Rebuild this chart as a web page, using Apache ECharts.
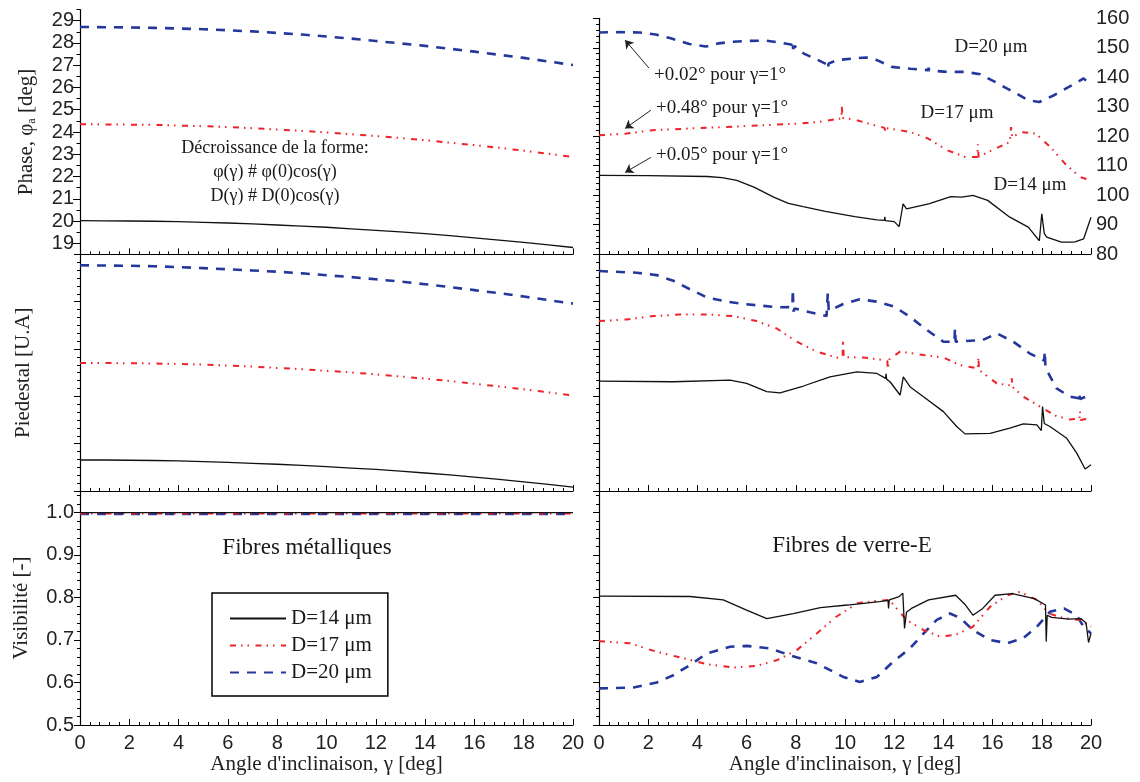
<!DOCTYPE html>
<html><head><meta charset="utf-8">
<script src="https://cdn.jsdelivr.net/npm/echarts@6/dist/echarts.min.js"></script>
<style>html,body{margin:0;padding:0;background:#fff}#c{width:1140px;height:782px}</style>
</head><body><div id="c"></div>
<script>
// ---------- DATA ----------
const names = ['D=14 μm', 'D=17 μm', 'D=20 μm'];
const xTicks = [0, 2, 4, 6, 8, 10, 12, 14, 16, 18, 20];
const phaseTicksL = [19, 20, 21, 22, 23, 24, 25, 26, 27, 28, 29];
const phaseMinorL = [18.5, 19.5, 20.5, 21.5, 22.5, 23.5, 24.5, 25.5, 26.5, 27.5, 28.5, 29.5];

// Left column (fibres métalliques), sampled every degree
const gammaL = [0,1,2,3,4,5,6,7,8,9,10,11,12,13,14,15,16,17,18,19,20];
const phaseL14 = [20.02,20.01,20.00,19.99,19.97,19.94,19.91,19.87,19.82,19.77,19.72,19.65,19.58,19.51,19.43,19.34,19.24,19.14,19.04,18.93,18.81];
const phaseL17 = [24.35,24.34,24.33,24.32,24.29,24.26,24.22,24.17,24.11,24.05,23.98,23.90,23.82,23.73,23.63,23.52,23.41,23.29,23.16,23.02,22.88];
const phaseL20 = [28.72,28.71,28.70,28.68,28.65,28.62,28.57,28.52,28.45,28.38,28.29,28.20,28.09,27.98,27.87,27.74,27.61,27.47,27.33,27.17,27.01];
const pedL14 = [13.1,13.1,13.0,12.9,12.7,12.4,12.1,11.7,11.3,10.8,10.3,9.7,9.1,8.4,7.6,6.8,5.9,4.9,3.9,2.8,1.6];
const pedL17 = [54.1,54.1,54.0,53.9,53.7,53.4,53.0,52.6,52.0,51.5,50.8,50.1,49.3,48.4,47.5,46.5,45.3,44.2,43.0,41.7,40.4];
const pedL20 = [95.4,95.3,95.2,95.0,94.6,94.2,93.7,93.2,92.7,92.0,91.2,90.4,89.5,88.5,87.4,86.2,84.9,83.6,82.2,80.7,79.2];
const visL14 = [0.999,0.999,0.999,0.999,0.999,0.999,0.999,0.999,0.999,0.999,0.999,0.999,0.999,0.999,0.999,0.999,0.999,0.999,0.999,0.999,0.999];
const visL17 = [0.997,0.997,0.997,0.997,0.997,0.997,0.997,0.997,0.997,0.997,0.997,0.997,0.997,0.997,0.997,0.997,0.997,0.997,0.997,0.997,0.997];
const visL20 = [0.996,0.996,0.996,0.996,0.996,0.996,0.996,0.996,0.996,0.996,0.996,0.996,0.996,0.996,0.996,0.996,0.996,0.996,0.996,0.996,0.996];

// Right column (fibres de verre-E), [gamma, value]
const phaseR14 = [[0,106.7],[2,106.6],[4.4,106.3],[5.0,105.9],[5.6,105],[6.3,102.7],[7.1,99.3],[7.7,97.2],[8.3,96.1],[9.2,94.5],[10.4,92.7],[11.3,91.6],[11.6,91.4],[11.62,92.6],[11.64,91.3],[12.0,91.0],[12.2,89.3],[12.3,94],[12.36,97],[12.5,95.3],[13.4,97],[14.3,99.5],[14.75,99.3],[15.2,99.9],[15.8,98.2],[16.7,92.5],[17.45,89.1],[17.9,84.5],[18.0,93.6],[18.1,87.0],[18.2,85.7],[18.8,84],[19.25,84],[19.3,84.6],[19.35,84.1],[19.7,85.1],[20,92.5]];
const phaseR17 = [[0,120.3],[1.12,120.9],[2.17,122],[3.67,122.6],[5.17,123.1],[6.67,123.7],[8.16,124.3],[8.9,124.8],[9.6,125.7],[9.85,126.0],[9.87,130.0],[9.9,126.2],[10.4,125.6],[11.2,123.7],[11.6,122.8],[11.65,121.5],[11.7,122.7],[12.66,121.4],[13.4,119.1],[14.16,115.2],[14.9,112.9],[15.38,112.9],[15.4,117.2],[15.43,113.0],[16.1,115.7],[16.7,118],[16.75,123.1],[16.8,119.6],[17.15,121.4],[17.75,120.9],[18.35,116.3],[18.95,110.6],[19.55,106.1],[20,105]];
const phaseR20 = [[0,155.2],[0.8,155.3],[1.65,155.2],[2.3,154.5],[2.92,153.2],[3.67,151.3],[4.34,150.4],[4.87,151.5],[5.4,152.0],[5.92,152.3],[6.82,152.4],[7.42,151.7],[7.85,151.0],[7.87,152.3],[7.89,149.6],[7.95,150.6],[8.31,148.1],[8.91,145.8],[9.28,144.3],[9.3,142.9],[9.33,144.6],[9.66,145.8],[10.4,146.4],[10.86,146.7],[11.3,145.8],[11.9,143.5],[12.66,142.9],[13.38,142.4],[13.4,143.2],[13.42,142.3],[14.16,141.8],[14.9,141.8],[15.5,141.0],[16.1,138.4],[16.85,135.0],[17.45,132.2],[17.9,131.6],[18.5,133.9],[19.1,136.7],[19.7,139.6],[20,137.3]];
const pedR14 = [[0,46.4],[3.02,46.1],[5.33,46.8],[6,45.4],[6.82,41.9],[7.36,41.4],[8.31,44.3],[9.39,48.2],[10.48,50.3],[11.3,49.6],[11.65,47.5],[11.67,49.5],[11.69,47.2],[11.83,46.1],[12.24,40.5],[12.37,48.2],[12.64,44],[13.19,39.8],[14,33.5],[14.54,27.2],[14.88,24.1],[15.9,24.3],[16.7,26.5],[17.25,28.3],[17.8,27.9],[17.98,25.5],[18.03,35.6],[18.1,28.5],[18.33,27.2],[19,22.4],[19.42,16],[19.76,9.3],[20,11.1]];
const pedR17 = [[0,71.7],[1.12,72.4],[2.21,73.8],[3.29,74.5],[4.38,74.5],[5.46,73.8],[6.41,71.7],[7.22,68.6],[8.04,63],[8.85,58.8],[9.66,56.3],[9.9,56.2],[9.92,63.7],[9.95,56.5],[10.75,56.3],[11.56,55.3],[11.72,55.0],[11.74,51.5],[11.8,55.5],[12.24,58.8],[13.19,57.4],[14,56.3],[14.68,53.1],[15.4,51.7],[15.42,56.7],[15.45,51.0],[16.17,45.4],[16.75,44.5],[16.78,47.5],[16.8,44.0],[17.25,39.8],[17.93,35.6],[18.6,31.6],[19.15,30.2],[19.53,30.5],[19.55,33.5],[19.58,30.0],[19.96,30.7]];
const pedR20 = [[0,92.8],[1.53,92.1],[2.34,91.1],[3.02,88.7],[3.7,85.1],[4.38,81.7],[5.19,79.9],[5.87,78.9],[6.61,78.2],[7.29,77.5],[7.86,77.6],[7.88,85.1],[7.9,75.7],[7.95,77.0],[8.58,75.4],[9.25,73.8],[9.3,83.4],[9.34,76],[9.93,78.9],[10.6,80.9],[11.3,79.9],[12,77.8],[12.64,73.5],[13.32,68],[14,63],[14.45,62.9],[14.47,68.6],[14.5,63.0],[15.6,63.7],[16.17,66.5],[16.84,63],[17.5,58.1],[18.1,55],[18.12,59],[18.15,52],[18.6,43.3],[19.15,39.8],[19.5,39.1],[19.52,41.5],[19.55,38.8],[19.96,40.5]];
const visR14 = [[0,0.803],[3.7,0.802],[5.05,0.794],[6,0.770],[6.82,0.750],[7.9,0.762],[9,0.776],[10.1,0.782],[11.4,0.790],[11.75,0.793],[11.77,0.774],[11.8,0.794],[12.2,0.802],[12.35,0.810],[12.42,0.727],[12.5,0.765],[12.7,0.774],[13.4,0.794],[14.5,0.805],[14.9,0.782],[15.2,0.758],[15.6,0.774],[16.1,0.805],[16.8,0.809],[17.7,0.797],[18.15,0.782],[18.18,0.696],[18.22,0.758],[18.4,0.753],[19.1,0.749],[19.6,0.750],[19.8,0.740],[19.9,0.694],[20,0.715]];
const visR17 = [[0,0.697],[1.26,0.692],[2.35,0.672],[3.43,0.657],[4.38,0.643],[5.46,0.635],[6.41,0.639],[7.22,0.652],[8.04,0.676],[8.85,0.715],[9.66,0.755],[10.5,0.786],[11.3,0.792],[11.8,0.794],[12.5,0.747],[13.2,0.723],[13.86,0.708],[14.5,0.712],[15.2,0.731],[15.9,0.778],[16.6,0.805],[17.1,0.813],[17.8,0.794],[18.3,0.762],[18.9,0.751],[19.55,0.747],[20,0.731]];
const visR20 = [[0,0.586],[1.4,0.588],[2.35,0.6],[3.02,0.617],[3.7,0.641],[4.38,0.668],[5.33,0.684],[6,0.686],[6.95,0.680],[7.76,0.664],[8.85,0.645],[9.93,0.613],[10.6,0.601],[11.3,0.613],[11.96,0.649],[12.64,0.680],[13.19,0.715],[13.73,0.747],[14.27,0.762],[14.7,0.751],[15.2,0.723],[15.9,0.700],[16.6,0.692],[17.25,0.704],[17.8,0.731],[18.33,0.766],[18.9,0.774],[19.42,0.758],[19.7,0.731],[20,0.715]];

// annotation arrows [tail, head] in data units of the right phase panel
const arrows = [[[2.03,143.1],[1.06,152.6]], [[2.11,128.8],[1.06,122.6]], [[2.11,112.8],[1.06,107.7]]];

// ---------- STYLE ----------
const SERIF = 'Liberation Serif';
const SANS = 'Liberation Sans';
const styles = [
  {color:'#111111', width:1.3, type:'solid'},
  {color:'#ee2229', width:2.0, type:[6,5,1.5,5,1.5,6.5]},
  {color:'#25379b', width:2.6, type:[9,8]}
];
const grids = [
  {left:80, top:9.6, width:493, height:244.8},
  {left:599, top:18.3, width:492, height:235.7},
  {left:80, top:254.4, width:493, height:236.6},
  {left:599, top:254, width:492, height:237},
  {left:80, top:491, width:493, height:234},
  {left:599, top:491, width:492, height:234}
].map(g => Object.assign({containLabel:false, outerBoundsMode:'none'}, g));

const axLine = {show:true, lineStyle:{color:'#000', width:1.2}};
const tickStyle = {color:'#000', width:1};

const xAxes = grids.map((g, i) => ({
  type:'value', gridIndex:i, min:0, max:20, interval:2,
  axisLine:axLine,
  axisTick:{show:true, inside:true, length:6, lineStyle:tickStyle},
  minorTick:{show:true, splitNumber:5, length:3, lineStyle:tickStyle},
  splitLine:{show:false},
  axisLabel:{show:i>=4, fontFamily:SANS, fontSize:20, color:'#222', margin:8},
  name: i>=4 ? "Angle d'inclinaison, γ [deg]" : '',
  nameLocation:'middle', nameGap:29,
  nameTextStyle:{fontFamily:SERIF, fontSize:21, color:'#222'}
}));

const nameStyle = {fontFamily:SERIF, fontSize:21, color:'#222',
  rich:{s:{fontFamily:SERIF, fontSize:12, color:'#222', padding:[12,0,0,0]}}};

const yAxes = [
  {type:'value', gridIndex:0, position:'left', min:18.5, max:29.5,
   axisLine:axLine,
   axisTick:{show:true, inside:false, length:7, lineStyle:tickStyle, customValues:phaseTicksL},
   axisLabel:{show:true, fontFamily:SANS, fontSize:20, color:'#222', margin:6, customValues:phaseTicksL},
   splitLine:{show:false},
   name:'Phase, φ{s|a} [deg]', nameLocation:'middle', nameGap:42, nameTextStyle:nameStyle},
  {type:'value', gridIndex:1, position:'right', min:80, max:160, interval:10,
   axisLine:axLine,
   axisTick:{show:true, inside:true, length:6, lineStyle:tickStyle},
   minorTick:{show:true, splitNumber:5, length:3, lineStyle:tickStyle},
   axisLabel:{show:true, fontFamily:SANS, fontSize:20, color:'#222', margin:5},
   splitLine:{show:false}},
  {type:'value', gridIndex:2, position:'left', min:0, max:100, interval:20,
   axisLine:axLine,
   axisTick:{show:true, inside:false, length:6, lineStyle:tickStyle},
   minorTick:{show:true, splitNumber:6, length:3, lineStyle:tickStyle},
   axisLabel:{show:false}, splitLine:{show:false},
   name:'Piedestal [U.A]', nameLocation:'middle', nameGap:46, nameTextStyle:nameStyle},
  {type:'value', gridIndex:3, position:'right', min:0, max:100, interval:20,
   axisLine:axLine,
   axisTick:{show:true, inside:true, length:6, lineStyle:tickStyle},
   minorTick:{show:true, splitNumber:6, length:3, lineStyle:tickStyle},
   axisLabel:{show:false}, splitLine:{show:false}},
  {type:'value', gridIndex:4, position:'left', min:0.5, max:1.05, interval:0.1,
   axisLine:axLine,
   axisTick:{show:true, inside:false, length:6, lineStyle:tickStyle},
   minorTick:{show:true, splitNumber:5, length:3, lineStyle:tickStyle},
   axisLabel:{show:true, fontFamily:SANS, fontSize:20, color:'#222', margin:6, showMaxLabel:false,
     formatter:v => Math.abs(v*10 - Math.round(v*10)) < 1e-6 ? v.toFixed(1) : ''},
   splitLine:{show:false},
   name:'Visibilité [-]', nameLocation:'middle', nameGap:48, nameTextStyle:nameStyle},
  {type:'value', gridIndex:5, position:'right', min:0.5, max:1.05, interval:0.1,
   axisLine:axLine,
   axisTick:{show:true, inside:true, length:6, lineStyle:tickStyle},
   minorTick:{show:true, splitNumber:5, length:3, lineStyle:tickStyle},
   axisLabel:{show:false}, splitLine:{show:false}},
  // half-degree minor ticks on the left phase axis
  {type:'value', gridIndex:0, position:'left', min:18.5, max:29.5,
   axisLine:{show:false},
   axisTick:{show:true, inside:false, length:3.5, lineStyle:tickStyle, customValues:phaseMinorL},
   axisLabel:{show:false}, splitLine:{show:false}}
];

function pairs(xs, ys){ return xs.map((x, i) => [x, ys[i]]); }
function mk(k, data, g, extra){
  return Object.assign({
    type:'line', name:names[k], data:data, xAxisIndex:g, yAxisIndex:g,
    symbol:'none', showSymbol:false, smooth:false, animation:false, silent:true,
    lineStyle:styles[k], itemStyle:{color:styles[k].color}, z: 3 + (2-k)
  }, extra || {});
}

const series = [
  mk(0, pairs(gammaL, phaseL14), 0), mk(1, pairs(gammaL, phaseL17), 0), mk(2, pairs(gammaL, phaseL20), 0),
  mk(0, phaseR14, 1, {markLine:{silent:true, animation:false, symbol:['none','arrow'], symbolSize:8,
      lineStyle:{color:'#222', width:1, type:'solid'}, label:{show:false},
      data: arrows.map(a => [{coord:a[0]}, {coord:a[1]}])}}),
  mk(1, phaseR17, 1), mk(2, phaseR20, 1),
  mk(0, pairs(gammaL, pedL14), 2), mk(1, pairs(gammaL, pedL17), 2), mk(2, pairs(gammaL, pedL20), 2),
  mk(0, pedR14, 3), mk(1, pedR17, 3), mk(2, pedR20, 3),
  mk(0, pairs(gammaL, visL14), 4), mk(1, pairs(gammaL, visL17), 4), mk(2, pairs(gammaL, visL20), 4),
  mk(0, visR14, 5), mk(1, visR17, 5), mk(2, visR20, 5)
];

function txt(s, x, y, size, align){
  return {type:'text', x:x, y:y, silent:true,
    style:{text:s, fontFamily:SERIF, fontSize:size, fill:'#1a1a1a', align:align || 'center', verticalAlign:'middle'}};
}

const option = {
  backgroundColor:'#ffffff',
  animation:false,
  grid:grids, xAxis:xAxes, yAxis:yAxes, series:series,
  legend:{
    data:names, orient:'vertical', left:212, top:593,
    itemWidth:56, itemHeight:16, itemGap:6,
    itemStyle:{color:'rgba(0,0,0,0)', borderWidth:0, borderColor:'rgba(0,0,0,0)'},
    padding:[15, 16, 13, 17],
    borderColor:'#000', borderWidth:1.5, backgroundColor:'#fff',
    textStyle:{fontFamily:SERIF, fontSize:21, color:'#1a1a1a'},
    selectedMode:false
  },
  graphic:[
    txt('Décroissance de la forme:', 275, 148, 18),
    txt('φ(γ) # φ(0)cos(γ)', 275, 172, 18),
    txt('D(γ) # D(0)cos(γ)', 275, 196, 18),
    txt('D=20 μm', 991, 47, 19),
    txt('D=17 μm', 957, 113, 19),
    txt('D=14 μm', 1030, 185, 19),
    txt('+0.02° pour γ=1°', 654, 75, 19, 'left'),
    txt('+0.48° pour γ=1°', 656, 108, 19, 'left'),
    txt('+0.05° pour γ=1°', 656, 155, 19, 'left'),
    txt('Fibres métalliques', 307, 548, 23),
    txt('Fibres de verre-E', 852, 546, 23)
  ]
};

const chart = echarts.init(document.getElementById('c'), null, {renderer:'canvas'});
chart.setOption(option);
</script>
</body></html>
